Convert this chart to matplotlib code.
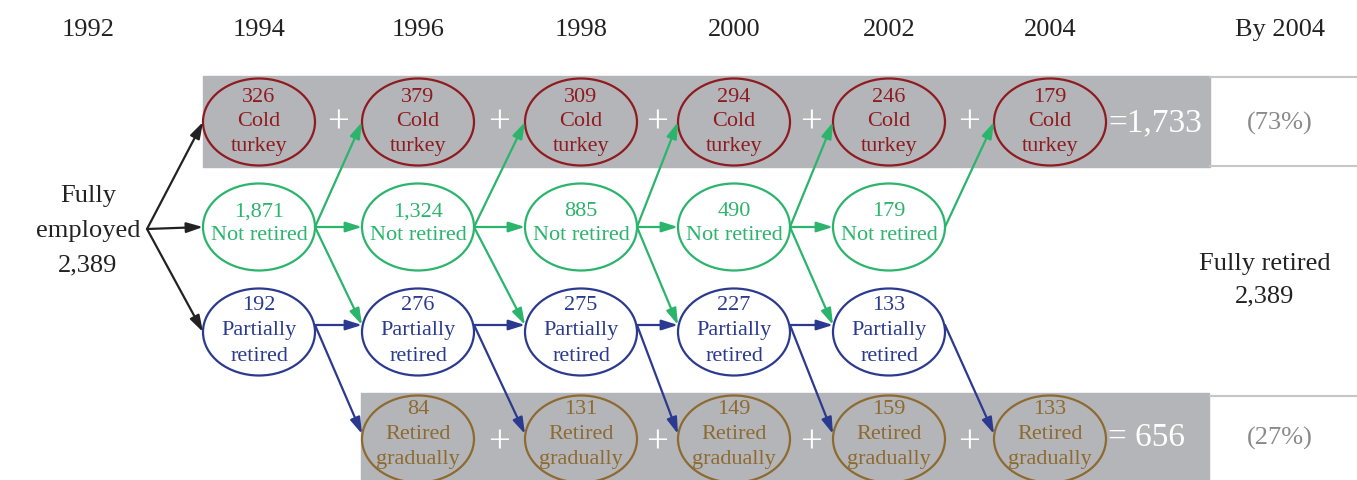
import matplotlib.pyplot as plt
from matplotlib.patches import Ellipse, Rectangle

plt.rcParams['font.family'] = ['Liberation Serif', 'DejaVu Serif']

# Data
years = ['1992', '1994', '1996', '1998', '2000', '2002', '2004', 'By 2004']
cold_turkey = [326, 379, 309, 294, 246, 179]          # 1994..2004
not_retired = [1871, 1324, 885, 490, 179]              # 1994..2002
partially_retired = [192, 276, 275, 227, 133]          # 1994..2002
retired_gradually = [84, 131, 149, 159, 133]           # 1996..2004
fully_employed = 2389
fully_retired = 2389
cold_total = 1733
gradual_total = 656
cold_share = '(73%)'
gradual_share = '(27%)'

RED = '#8e1b1f'
GREEN = '#2bb46c'
BLUE = '#2b3a8e'
BROWN = '#8d6a30'
BAND = '#b4b5b9'
TXT = '#222222'

# layout (pixel coordinates)
year_x = [88, 259, 418, 581, 734, 889, 1050, 1280]
col_x = year_x[1:7]
y_ct, y_nr, y_pr, y_rg = 123, 228, 333, 440
EW, EH = 112, 87

fig = plt.figure(figsize=(13.57, 4.81), dpi=100)
ax = fig.add_axes([0, 0, 1, 1])
ax.set_xlim(0, 1357)
ax.set_ylim(481, 0)
ax.axis('off')

# gray bands and right boxes
ax.add_patch(Rectangle((203, 77), 1007, 91, color=BAND, zorder=0))
ax.add_patch(Rectangle((361, 394), 848, 100, color=BAND, zorder=0))
for yy in (78, 167, 397):
    ax.plot([1210, 1357], [yy, yy], color='#c6c6c6', lw=1.5, zorder=0)

# year headers
for x, lab in zip(year_x, years):
    ax.text(x, 30, lab, ha='center', va='center', fontsize=19, color=TXT)

ax.text(88, 231, f'Fully\nemployed\n{fully_employed:,}', ha='center', va='center',
        fontsize=19, color=TXT, linespacing=1.75)
ax.text(1265, 280, f'Fully retired\n{fully_retired:,}', ha='center', va='center',
        fontsize=19, color=TXT, linespacing=1.6)


def node(x, y, lines, color, offsets):
    ax.add_patch(Ellipse((x, y), EW, EH, fill=False, ec=color, lw=1.6, zorder=2))
    for s, dy in zip(lines, offsets):
        ax.text(x, y + dy, s, ha='center', va='center', fontsize=16, color=color, zorder=3)


def arrow(p0, p1, color):
    ax.annotate('', xy=p1, xytext=p0,
                arrowprops=dict(arrowstyle='-|>,head_length=0.7,head_width=0.22',
                                color=color, lw=1.6, mutation_scale=14,
                                shrinkA=0, shrinkB=0), zorder=4)


def left(x, y):
    return (x - EW / 2, y)


def right(x, y):
    return (x + EW / 2, y)


# nodes
for i, v in enumerate(cold_turkey):
    node(col_x[i], y_ct, [str(v), 'Cold', 'turkey'], RED, [-26, -1, 24])
for i, v in enumerate(not_retired):
    node(col_x[i], y_nr, [f'{v:,}', 'Not retired'], GREEN, [-16, 8])
for i, v in enumerate(partially_retired):
    node(col_x[i], y_pr, [str(v), 'Partially', 'retired'], BLUE, [-27, -2, 24])
for i, v in enumerate(retired_gradually):
    node(col_x[i + 1], y_rg, [str(v), 'Retired', 'gradually'], BROWN, [-30, -5, 20])

# plus signs and totals
for i in range(len(cold_turkey) - 1):
    ax.text((col_x[i] + col_x[i + 1]) / 2, y_ct, '+', ha='center', va='center',
            fontsize=28, color='white')
for i in range(1, len(col_x) - 1):
    ax.text((col_x[i] + col_x[i + 1]) / 2, y_rg + 3, '+', ha='center', va='center',
            fontsize=28, color='white')
ax.text(1108, y_ct, f'={cold_total:,}', ha='left', va='center', fontsize=24, color='white')
ax.text(1108, y_rg - 2, f'= {gradual_total}', ha='left', va='center', fontsize=24, color='white')
ax.text(1280, y_ct, cold_share, ha='center', va='center', fontsize=19, color='#8a8a8a')
ax.text(1280, y_rg - 2, gradual_share, ha='center', va='center', fontsize=19, color='#8a8a8a')

# arrows from 1992
src = (147, 230)
for y in (y_ct, y_nr, y_pr):
    arrow(src, left(col_x[0], y), '#222222')

# transitions
for i in range(len(not_retired)):
    s = right(col_x[i], y_nr)
    arrow(s, left(col_x[i + 1], y_ct), GREEN)
    if i + 1 < len(not_retired):
        arrow(s, left(col_x[i + 1], y_nr), GREEN)
        arrow(s, left(col_x[i + 1], y_pr - 7), GREEN)
for i in range(len(partially_retired)):
    s = right(col_x[i], y_pr - 7)
    if i + 1 < len(partially_retired):
        arrow(s, left(col_x[i + 1], y_pr - 7), BLUE)
    arrow(s, left(col_x[i + 1], y_rg - 5), BLUE)

plt.savefig('out.png', dpi=100)
